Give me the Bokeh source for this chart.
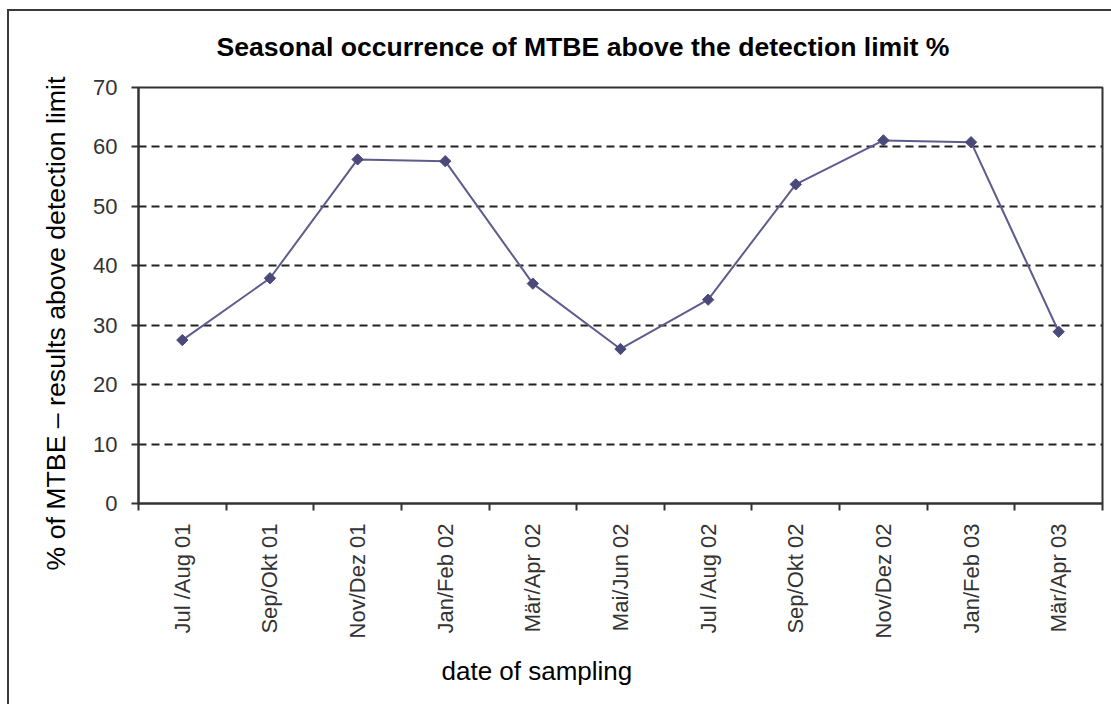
import math
from bokeh.plotting import figure
from bokeh.models import Range1d, FixedTicker, Title
from bokeh.embed import file_html
from bokeh.resources import INLINE

# ---- data ----
periods = ["Jul /Aug 01", "Sep/Okt 01", "Nov/Dez 01", "Jan/Feb 02", "Mär/Apr 02",
           "Mai/Jun 02", "Jul /Aug 02", "Sep/Okt 02", "Nov/Dez 02", "Jan/Feb 03", "Mär/Apr 03"]
mtbe_pct = [27.5, 37.9, 57.9, 57.6, 37.0, 26.0, 34.3, 53.7, 61.1, 60.8, 28.9]
y_ticks = [0, 10, 20, 30, 40, 50, 60, 70]
grid_levels = [10, 20, 30, 40, 50, 60]

title_text = "Seasonal occurrence of MTBE above the detection limit %"
x_title = "date of sampling"
y_title = "% of MTBE \u2013 results above detection limit"

FONT = "Liberation Sans"
AXIS_COLOR = "#333333"
n = len(periods)
centers = [i + 0.5 for i in range(n)]
boundaries = list(range(n + 1))

p = figure(frame_width=964, frame_height=416,
           x_range=Range1d(0, n), y_range=Range1d(0, 70),
           output_backend="svg", toolbar_location=None, tools="",
           min_border_left=138, min_border_right=9,
           min_border_top=87, min_border_bottom=201)
# outer chart border (top and left edges visible), drawn without taking layout space
p.styles = {"box-shadow": "inset 7px 9px 0 0 #ffffff, inset 9px 11px 0 0 #3a3a3a",
            "background-color": "#ffffff"}
p.background_fill_color = "white"
p.border_fill_color = None
p.outline_line_color = AXIS_COLOR
p.outline_line_width = 2
p.outline_line_alpha = 1.0

# chart title
p.title.text = title_text
p.title.align = "left"
p.title.offset = 78
p.title.standoff = 52
p.title.text_font = FONT
p.title.text_font_size = "26.6px"
p.title.text_font_style = "bold"
p.title.text_color = "black"

# x axis: labels at category centres, tick marks at category boundaries
xa = p.xaxis[0]
xa.ticker = FixedTicker(ticks=centers, minor_ticks=boundaries)
xa.major_label_overrides = {c: lab for c, lab in zip(centers, periods)}
xa.major_label_orientation = math.pi / 2
xa.major_tick_out = 0
xa.major_tick_in = 0
xa.minor_tick_out = 7
xa.minor_tick_in = 0
xa.minor_tick_line_width = 2
xa.minor_tick_line_color = AXIS_COLOR
xa.axis_line_width = 2
xa.axis_line_color = AXIS_COLOR
xa.major_label_standoff = 13
xa.major_label_text_font = FONT
xa.major_label_text_font_size = "22px"
xa.major_label_text_color = "#333333"

ya = p.yaxis[0]
ya.ticker = FixedTicker(ticks=y_ticks, minor_ticks=[])
ya.major_tick_out = 7
ya.major_tick_in = 0
ya.minor_tick_out = 0
ya.minor_tick_in = 0
ya.major_tick_line_width = 2
ya.major_tick_line_color = AXIS_COLOR
ya.axis_line_width = 2
ya.axis_line_color = AXIS_COLOR
ya.major_label_standoff = 14
ya.major_label_text_font = FONT
ya.major_label_text_font_size = "22px"
ya.major_label_text_color = "#333333"

p.xgrid.visible = False
p.ygrid.ticker = FixedTicker(ticks=grid_levels)
p.ygrid.grid_line_color = "#222222"
p.ygrid.grid_line_width = 2
p.ygrid.grid_line_dash = "8 5"

# axis titles as side-panel titles (positioned like the reference)
p.add_layout(Title(text=x_title, align="left", offset=303, standoff=24,
                   text_font=FONT, text_font_size="26px", text_font_style="normal",
                   text_color="black"), "below")
p.add_layout(Title(text=y_title, align="left", offset=-67, standoff=39,
                   text_font=FONT, text_font_size="26.7px", text_font_style="normal",
                   text_color="black"), "left")

# series
p.line(centers, mtbe_pct, line_color="#5d5c8d", line_width=2)
p.scatter(centers, mtbe_pct, marker="square", angle=math.pi / 4, size=8,
          fill_color="#4a4979", line_color="#4a4979")

open("out.html", "w").write(file_html(p, INLINE))
